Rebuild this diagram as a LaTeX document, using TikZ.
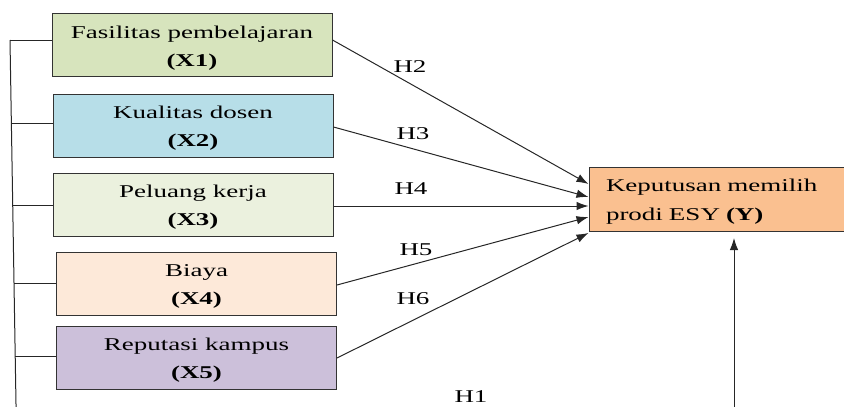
\documentclass[tikz,border=0pt]{standalone}
\usepackage{fontspec}
\setmainfont{Liberation Serif}[FakeStretch=1.5]
\usetikzlibrary{arrows.meta}
\definecolor{fasil}{RGB}{215,228,189}
\definecolor{dosen}{RGB}{183,222,232}
\definecolor{kerja}{RGB}{235,241,222}
\definecolor{biaya}{RGB}{253,233,217}
\definecolor{reput}{RGB}{204,192,218}
\definecolor{keput}{RGB}{250,192,144}
\newcommand{\topgap}{\rule{0pt}{18pt}}
\begin{document}
\begin{tikzpicture}[x=1pt, y=-1pt,
	var/.style={draw=black!80, line width=1pt, minimum width=280pt, minimum height=63pt, inner sep=0pt, align=center, font=\fontsize{18}{28}\selectfont},
	hyp/.style={inner sep=0pt, font=\fontsize{18}{20}\selectfont},
	wire/.style={black!85, line width=1pt},
	link/.style={black!85, line width=1pt, -{Latex[length=12pt, width=8.5pt]}}]
	\clip (0,0) rectangle (844,407);
	\node[var, fill=fasil] (x1) at (192, 45) {\topgap Fasilitas pembelajaran\\\textbf{(X1)}};
	\node[var, fill=dosen] (x2) at (193, 125.5) {\topgap Kualitas dosen\\\textbf{(X2)}};
	\node[var, fill=kerja] (x3) at (193, 204.5) {\topgap Peluang kerja\\\textbf{(X3)}};
	\node[var, fill=biaya] (x4) at (196.5, 283.5) {\topgap Biaya\\\textbf{(X4)}};
	\node[var, fill=reput] (x5) at (196.5, 357.5) {\topgap Reputasi kampus\\\textbf{(X5)}};
	\node[var, fill=keput, minimum width=0pt, minimum height=64pt, text width=232pt, inner xsep=17pt, align=left, font=\fontsize{18}{29}\selectfont] (dec) at (722, 199) {\topgap Keputusan memilih\\prodi ESY \textbf{(Y)}};

	\coordinate (s1) at (10, 40);
	\coordinate (s2) at (11.4, 123);
	\coordinate (s3) at (12.7, 205);
	\coordinate (s4) at (14, 283);
	\coordinate (s5) at (15.2, 356);
	\coordinate (sb) at (16.1, 410);
	\draw[wire] (s1) -- (sb);
	\draw[wire] (s1) -- (s1 -| x1.west);
	\draw[wire] (s2) -- (s2 -| x2.west);
	\draw[wire] (s3) -- (s3 -| x3.west);
	\draw[wire] (s4) -- (s4 -| x4.west);
	\draw[wire] (s5) -- (s5 -| x5.west);

	\draw[link] (x1.east |- 0, 40) -- (dec.west |- 0, 184);
	\draw[link] (x2.east |- 0, 127) -- (dec.west |- 0, 197);
	\draw[link] (x3.east |- 0, 206) -- (dec.west |- 0, 206);
	\draw[link] (x4.east |- 0, 285) -- (dec.west |- 0, 217);
	\draw[link] (x5.east |- 0, 358) -- (dec.west |- 0, 233);
	\coordinate (up) at (734, 410);
	\coordinate (upend) at (734, 238);
	\draw[link] (up) -- (upend);

	\node[hyp] (h2) at (410, 67) {H2};
	\node[hyp] (h3) at (413, 134) {H3};
	\node[hyp] (h4) at (411, 189) {H4};
	\node[hyp] (h5) at (416, 250) {H5};
	\node[hyp] (h6) at (413, 299) {H6};
	\node[hyp] (h1) at (471, 397) {H1};
\end{tikzpicture}
\end{document}
